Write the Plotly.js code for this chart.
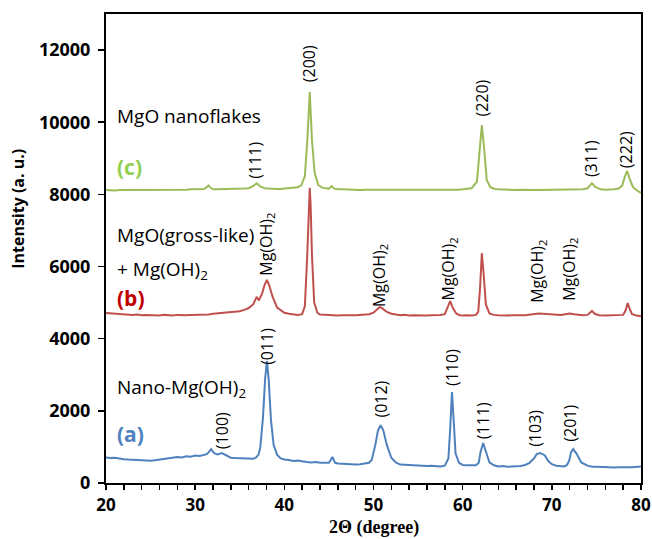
<!DOCTYPE html>
<html>
<head>
<meta charset="utf-8">
<script src="https://cdn.plot.ly/plotly-3.0.1.min.js"></script>
<style>html,body{margin:0;padding:0;background:#fff;}#chart{width:652px;height:539px;}</style>
</head>
<body>
<div id="chart"></div>
<script>
// (a) Nano-Mg(OH)2
const xA = [20,20.5,21,21.5,22,22.5,23,23.5,24,24.5,25,25.5,26,26.5,27,27.5,28,28.5,29,29.5,30,30.5,31,31.3,31.5,31.8,32.1,32.5,33.0,33.4,34,34.5,35,35.5,36,36.5,36.8,37.1,37.3,37.6,37.85,38.05,38.25,38.5,38.8,39.2,39.6,40,40.5,41,41.5,42,42.5,43,43.5,44,44.5,45,45.4,45.7,46,46.5,47,47.5,48,48.5,49,49.5,49.8,50.2,50.5,50.8,51.1,51.5,52,52.5,53,53.5,54,54.5,55,55.5,56,56.5,57,57.5,58,58.4,58.6,58.8,59.0,59.2,59.6,60,60.5,61,61.5,61.8,62.0,62.3,62.6,63,63.5,64,64.5,65,65.5,66,66.5,67,67.5,68,68.3,68.7,69.2,69.6,70,70.5,71,71.4,71.7,71.95,72.15,72.4,72.8,73.3,74,74.5,75,75.5,76,76.5,77,77.5,78,78.5,79,79.5,80];
const yA = [710,690,700,670,660,650,640,630,620,610,620,630,650,660,690,700,720,710,740,730,760,750,780,800,850,940,830,790,830,770,700,690,680,670,660,670,700,780,980,1800,2900,3380,2850,1750,1050,780,680,650,640,610,620,590,580,570,580,560,550,560,720,560,540,530,520,530,510,520,530,560,640,1050,1450,1600,1460,1050,700,570,510,500,490,480,480,470,470,480,470,460,480,680,1500,2520,1700,820,560,500,490,480,490,560,850,1110,860,570,490,460,470,450,460,460,470,500,560,680,800,830,770,610,520,480,470,460,500,620,850,940,800,570,480,450,450,440,440,440,430,440,430,440,440,450,460];
// (b) MgO(gross-like) + Mg(OH)2
const xB = [20,20.5,21,21.5,22,22.5,23,23.5,24,24.5,25,25.5,26,26.5,27,27.5,28,28.5,29,29.5,30,30.5,31,31.5,32,32.5,33,33.5,34,34.5,35,35.5,36,36.5,36.9,37.15,37.5,37.8,38.05,38.3,38.7,39.2,39.7,40,40.5,41,41.5,42,42.3,42.55,42.75,42.85,42.95,43.1,43.35,43.7,44,44.5,45,45.5,46,46.5,47,47.5,48,48.5,49,49.5,50,50.4,50.7,51,51.5,52,52.5,53,53.5,54,54.5,55,55.5,56,56.5,57,57.5,58,58.3,58.6,58.9,59.3,59.7,60,60.5,61,61.5,61.75,61.95,62.15,62.35,62.6,63,63.5,64,64.5,65,65.5,66,66.5,67,67.5,68,68.5,69,69.5,70,70.5,71,71.5,72,72.5,73,73.5,74,74.3,74.5,74.8,75.3,76,76.5,77,77.5,78,78.3,78.5,78.7,79,79.5,80];
const yB = [4710,4700,4690,4680,4670,4680,4660,4670,4650,4660,4650,4660,4640,4660,4650,4640,4660,4650,4650,4660,4660,4670,4680,4670,4690,4700,4700,4710,4720,4740,4760,4800,4850,4950,5160,5060,5250,5500,5630,5480,5150,4860,4760,4720,4690,4670,4660,4680,4900,6200,7800,8180,7700,6300,5000,4720,4670,4660,4650,4650,4640,4650,4640,4650,4650,4660,4660,4680,4720,4820,4880,4840,4740,4690,4660,4650,4660,4640,4650,4640,4650,4640,4650,4650,4660,4680,4850,5040,4850,4690,4650,4640,4650,4640,4660,4750,5400,6370,5800,4950,4700,4660,4650,4640,4640,4650,4640,4650,4650,4670,4690,4700,4690,4680,4660,4670,4660,4680,4700,4680,4660,4650,4660,4720,4770,4690,4650,4640,4650,4640,4650,4660,4800,4990,4850,4680,4640,4620];
// (c) MgO nanoflakes
const xC = [20,20.5,21,21.5,22,22.5,23,23.5,24,24.5,25,25.5,26,26.5,27,27.5,28,28.5,29,29.5,30,30.5,31,31.3,31.5,31.7,32,32.5,33,33.5,34,34.5,35,35.5,36,36.5,36.9,37.3,37.8,38.5,39,39.5,40,40.5,41,41.5,41.9,42.3,42.6,42.85,43.1,43.4,43.8,44.3,45,45.3,45.6,46,46.5,47,47.5,48,48.5,49,49.5,50,50.5,51,51.5,52,52.5,53,53.5,54,54.5,55,55.5,56,56.5,57,57.5,58,58.5,59,59.5,60,60.5,61,61.6,61.9,62.15,62.4,62.7,63.1,63.6,64,64.5,65,65.5,66,66.5,67,67.5,68,68.5,69,69.5,70,70.5,71,71.5,72,72.5,73,73.5,74,74.5,74.9,75.5,76,76.5,77,77.5,77.9,78.2,78.45,78.7,79.1,79.6,80];
const yC = [8120,8110,8110,8120,8120,8110,8110,8120,8120,8110,8120,8130,8130,8120,8120,8130,8130,8130,8130,8140,8140,8140,8150,8200,8250,8190,8140,8140,8140,8150,8140,8150,8150,8160,8170,8230,8310,8220,8170,8150,8150,8150,8160,8170,8180,8200,8250,8500,9600,10840,9500,8600,8260,8180,8160,8230,8160,8140,8140,8130,8130,8130,8120,8130,8130,8120,8120,8120,8120,8110,8110,8110,8120,8120,8120,8120,8120,8120,8120,8130,8130,8130,8130,8130,8130,8140,8150,8170,8350,9300,9920,9300,8400,8200,8150,8140,8130,8130,8120,8120,8130,8120,8120,8120,8120,8120,8120,8120,8120,8130,8130,8130,8130,8140,8140,8170,8310,8200,8140,8130,8130,8140,8160,8250,8500,8650,8450,8200,8100,8040];

const xTicks = [20,30,40,50,60,70,80];
const yTicks = [0,2000,4000,6000,8000,10000,12000];

const peakLabelsX = [33.1,38.05,50.8,58.8,62.3,68.1,72.1, 38.05,50.6,58.4,68.4,71.9, 36.7,42.85,62.15,74.4,78.3];
const peakLabelsY = [1460,3800,2330,3215,1720,1525,1660, 6630,5760,5930,5870,5930, 8960,11630,10680,8980,9250];
const peakLabelsText = ['(100)','(011)','(012)','(110)','(111)','(103)','(201)',
  'Mg(OH)<sub>2</sub>','Mg(OH)<sub>2</sub>','Mg(OH)<sub>2</sub>','Mg(OH)<sub>2</sub>','Mg(OH)<sub>2</sub>',
  '(111)','(200)','(220)','(311)','(222)'];

const lineW = 2;
const traces = [
  {x: xA, y: yA, mode: 'lines', line: {color: '#4F81BD', width: lineW}, name: '(a)'},
  {x: xB, y: yB, mode: 'lines', line: {color: '#C0504D', width: lineW}, name: '(b)'},
  {x: xC, y: yC, mode: 'lines', line: {color: '#9BBB59', width: lineW}, name: '(c)'}
];

const ann = peakLabelsText.map((t, i) => ({
  x: peakLabelsX[i], y: peakLabelsY[i], xref: 'x', yref: 'y', text: t, showarrow: false,
  textangle: -90, font: {family: 'Open Sans, sans-serif', size: 16, color: '#000'},
  xanchor: 'center', yanchor: 'middle'
}));

const sideFont = {family: 'Open Sans, sans-serif', size: 19, color: '#000'};
const tagFont = (c) => ({family: 'Open Sans, sans-serif', size: 21, color: c});
ann.push(
  {x: 21, y: 10170, xref: 'x', yref: 'y', text: 'MgO nanoflakes', showarrow: false, xanchor: 'left', yanchor: 'middle', font: sideFont},
  {x: 21, y: 8750, xref: 'x', yref: 'y', text: '<b>(c)</b>', showarrow: false, xanchor: 'left', yanchor: 'middle', font: tagFont('#92D050')},
  {x: 21, y: 6870, xref: 'x', yref: 'y', text: 'MgO(gross-like)', showarrow: false, xanchor: 'left', yanchor: 'middle', font: sideFont},
  {x: 21, y: 5900, xref: 'x', yref: 'y', text: '+ Mg(OH)<sub>2</sub>', showarrow: false, xanchor: 'left', yanchor: 'middle', font: sideFont},
  {x: 21, y: 5130, xref: 'x', yref: 'y', text: '<b>(b)</b>', showarrow: false, xanchor: 'left', yanchor: 'middle', font: tagFont('#C00000')},
  {x: 21, y: 2630, xref: 'x', yref: 'y', text: 'Nano-Mg(OH)<sub>2</sub>', showarrow: false, xanchor: 'left', yanchor: 'middle', font: sideFont},
  {x: 21, y: 1350, xref: 'x', yref: 'y', text: '<b>(a)</b>', showarrow: false, xanchor: 'left', yanchor: 'middle', font: tagFont('#4F81BD')},
  {x: -0.166, y: 0.585, xref: 'paper', yref: 'paper', text: '<b>Intensity (a. u.)</b>', showarrow: false, textangle: -90,
   xanchor: 'center', yanchor: 'middle', font: {family: 'Open Sans, sans-serif', size: 16, color: '#000'}},
  {x: 0.5, y: -0.1195, xref: 'paper', yref: 'paper', text: '<b>2Θ (degree)</b>', showarrow: false,
   xanchor: 'center', yanchor: 'bottom', borderpad: 0, font: {family: 'Liberation Serif, serif', size: 18, color: '#000'}}
);

const layout = {
  width: 652, height: 539,
  margin: {l: 106, r: 11, t: 14, b: 56},
  paper_bgcolor: '#fff', plot_bgcolor: '#fff',
  showlegend: false,
  xaxis: {
    range: [20, 80], tickvals: xTicks, ticktext: xTicks.map(String),
    showgrid: false, zeroline: false, showline: true, linecolor: '#000', linewidth: 2, mirror: true,
    ticks: 'outside', ticklen: 5, tickwidth: 1.5, tickcolor: '#000', ticklabelstandoff: 1,
    minor: {dtick: 2, ticks: 'outside', ticklen: 5, tickwidth: 1.5, tickcolor: '#000', showgrid: false},
    tickfont: {family: 'Open Sans, sans-serif', size: 17, color: '#000', weight: 'bold'}
  },
  yaxis: {
    range: [0, 13000], tickvals: yTicks, ticktext: yTicks.map(String),
    showgrid: false, zeroline: false, showline: true, linecolor: '#000', linewidth: 2, mirror: true,
    ticks: 'outside', ticklen: 6, tickwidth: 1.5, tickcolor: '#000', ticklabelstandoff: 4,
    tickfont: {family: 'Open Sans, sans-serif', size: 18, color: '#000', weight: 'bold'}
  },
  annotations: ann
};

Plotly.newPlot('chart', traces, layout, {staticPlot: true, displayModeBar: false});
</script>
</body>
</html>
